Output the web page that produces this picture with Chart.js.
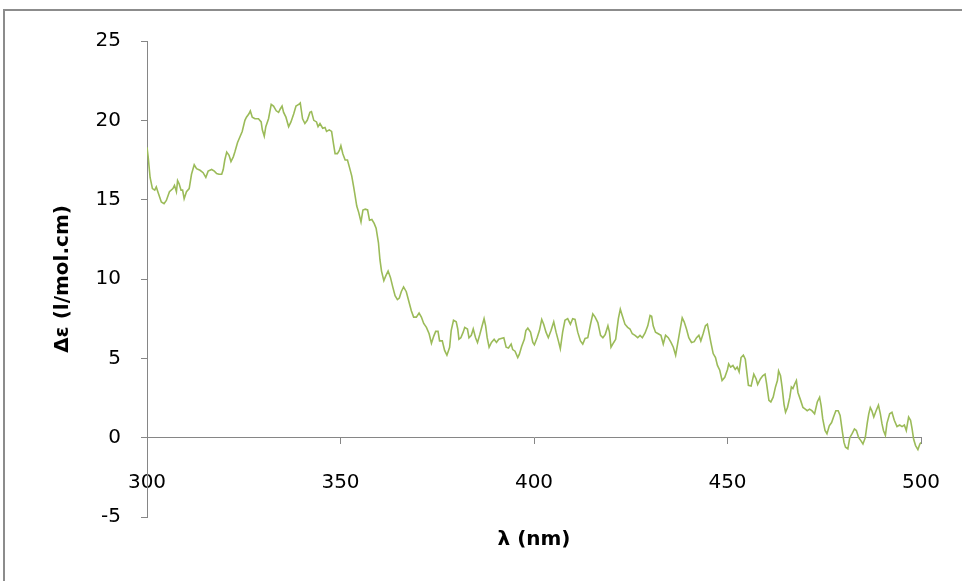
<!DOCTYPE html>
<html lang="en">
<head>
  <meta charset="UTF-8">
  <title>CD spectrum</title>
  <script src="https://cdn.jsdelivr.net/npm/chart.js"></script>
  <style>
    body { margin: 0; background: #fff; }
    #frame { position: absolute; left: 3px; top: 9px; width: 1000px; height: 1000px; border: 2px solid #8c8c8c; box-sizing: border-box; }
    #chartBox { position: absolute; left: 0; top: 0; width: 962px; height: 581px; }
  </style>
</head>
<body>
<div id="frame"></div>
<div id="chartBox"><canvas id="cdChart" width="962" height="581"></canvas></div>

<script>
// wavelength (nm)
const wavelengths = [
  300.0, 300.3, 300.8, 301.4, 302.0, 302.4, 302.8, 303.7, 304.4, 305.0,
  305.8, 306.7, 307.1, 307.6, 307.9, 308.3, 308.8, 309.2, 309.6, 310.2,
  310.9, 311.5, 312.2, 312.8, 313.7, 314.5, 315.2, 315.8, 316.7, 317.4,
  318.0, 318.6, 319.3, 319.7, 320.1, 320.6, 321.2, 321.7, 322.3, 322.7,
  323.4, 324.0, 324.6, 325.3, 325.7, 326.3, 326.7, 327.2, 327.9, 328.8,
  329.5, 329.8, 330.3, 330.7, 331.4, 332.1, 332.7, 333.4, 334.0, 334.4,
  334.9, 335.3, 335.9, 336.6, 337.2, 337.9, 338.5, 339.2, 339.6,
  340.2, 340.8, 341.4, 342.1, 342.5, 343.1, 343.8, 344.2, 344.7, 345.4,
  346.0, 346.4, 347.1, 347.7, 348.2, 348.6, 349.2, 349.7, 350.1, 350.6,
  351.2, 351.8, 352.3, 352.9, 353.4, 353.8, 354.2, 354.7, 355.3, 355.8,
  356.4, 357.0, 357.5, 358.1, 358.7, 359.2, 359.8, 360.2, 360.6, 361.2,
  361.7, 362.3, 362.9, 363.5, 364.1, 364.7, 365.2, 365.7, 366.3, 367.0,
  367.7, 368.3, 368.9, 369.6, 370.3, 370.9, 371.5, 372.2, 372.9, 373.5,
  374.1, 374.6, 375.2, 375.6, 376.3, 376.9, 377.5, 378.2, 378.6, 379.2,
  379.9, 380.3, 380.6,
  381.1, 381.7, 382.1, 382.8, 383.2, 383.8, 384.3, 384.9, 385.4, 386.0,
  386.6, 387.1, 387.5, 387.9, 388.4, 389.0, 389.7, 390.3, 390.9, 391.5,
  392.2, 392.8, 393.4, 394.1, 394.5, 395.1, 395.8, 396.2, 396.8, 397.5,
  397.9, 398.4, 399.1, 399.7, 400.1, 400.8, 401.4, 402.0, 402.5, 403.1,
  403.7, 404.4, 405.1, 405.7, 406.3, 406.8, 407.4, 408.0, 408.7, 409.4,
  410.0, 410.6, 411.3, 412.0, 412.6, 413.2, 413.9, 414.6, 415.2, 415.8,
  416.5, 417.2, 417.8, 418.4, 419.1, 419.5, 419.9, 420.6, 421.1,
  421.8, 422.3, 422.8, 423.5, 424.2, 424.8, 425.4, 426.1, 426.8, 427.4,
  428.0, 428.7, 429.4, 430.0, 430.4, 430.8, 431.4, 432.1, 432.8, 433.4,
  434.0, 434.7, 435.4, 436.0, 436.6, 437.1, 437.7, 438.3, 438.8, 439.4,
  440.0, 440.7, 441.4, 442.0, 442.6, 443.1, 443.7, 444.3, 444.8, 445.2,
  445.7, 446.3, 446.9, 447.4, 448.0, 448.6, 449.3, 450.0, 450.3, 450.8,
  451.4, 452.0, 452.5, 453.0, 453.5, 454.1, 454.6, 455.1, 455.4, 456.1,
  456.8, 457.4, 457.8, 458.5, 459.1, 459.7,
  460.1, 460.7, 461.2, 461.8, 462.4, 462.9, 463.2, 463.7, 464.1, 464.6,
  465.0, 465.5, 466.1, 466.5, 466.9, 467.4, 467.8, 468.2, 468.9, 469.5,
  470.1, 470.6, 471.2, 471.8, 472.5, 473.2, 473.8, 474.2, 474.6, 475.2,
  475.7, 476.3, 476.9, 477.4, 478.0, 478.6, 479.1, 479.7, 480.1, 480.5,
  481.1, 481.6, 482.2, 482.8, 483.3, 483.9, 484.5, 485.0, 485.6, 486.1,
  486.5, 486.9, 487.3, 487.8, 488.4, 489.0, 489.5, 489.9, 490.3, 490.8,
  491.2, 491.9, 492.5, 493.1, 493.8, 494.5, 495.1, 495.7, 496.2, 496.8,
  497.3, 497.7, 498.1, 498.6, 499.2, 499.7, 500.0
];

// delta epsilon (l/mol.cm)
const deltaEps = [
  18.3, 17.7, 16.4, 15.7, 15.6, 15.8, 15.5, 14.85, 14.75, 14.95,
  15.5, 15.7, 15.9, 15.5, 16.2, 16.0, 15.6, 15.6, 15.06, 15.5,
  15.7, 16.6, 17.2, 16.95, 16.85, 16.7, 16.4, 16.8, 16.9, 16.8,
  16.65, 16.6, 16.6, 16.9, 17.5, 18.0, 17.8, 17.4, 17.7, 18.0,
  18.6, 18.95, 19.3, 20.0, 20.2, 20.4, 20.6, 20.2, 20.1, 20.1,
  19.9, 19.4, 19.0, 19.6, 20.1, 21.0, 20.9, 20.6, 20.5, 20.7,
  20.9, 20.5, 20.2, 19.6, 19.9, 20.4, 20.9, 21.0, 21.1,
  20.1, 19.8, 20.0, 20.5, 20.55, 20.0, 19.9, 19.6, 19.8, 19.5,
  19.55, 19.3, 19.4, 19.3, 18.5, 17.9, 17.9, 18.1, 18.4, 17.9,
  17.5, 17.5, 17.05, 16.5, 15.8, 15.2, 14.6, 14.2, 13.6, 14.35,
  14.4, 14.35, 13.7, 13.75, 13.5, 13.2, 12.3, 11.2, 10.5, 9.9,
  10.2, 10.5, 10.1, 9.5, 8.95, 8.7, 8.8, 9.2, 9.5, 9.2,
  8.55, 8.0, 7.6, 7.6, 7.85, 7.6, 7.2, 6.95, 6.55, 5.95,
  6.4, 6.7, 6.7, 6.1, 6.1, 5.5, 5.2, 5.7, 6.75, 7.4,
  7.3, 6.85, 6.2,
  6.3, 6.65, 6.95, 6.85, 6.3, 6.45, 6.85, 6.3, 6.0, 6.5,
  7.05, 7.5, 7.05, 6.3, 5.7, 6.0, 6.2, 6.0, 6.2, 6.25,
  6.3, 5.7, 5.65, 5.9, 5.55, 5.45, 5.05, 5.25, 5.75, 6.2,
  6.75, 6.9, 6.65, 6.0, 5.85, 6.3, 6.75, 7.45, 7.15, 6.65,
  6.3, 6.75, 7.3, 6.65, 6.1, 5.6, 6.65, 7.4, 7.5, 7.15,
  7.5, 7.45, 6.65, 6.1, 5.9, 6.25, 6.3, 7.15, 7.8, 7.6,
  7.25, 6.45, 6.3, 6.5, 7.05, 6.65, 5.7, 6.0, 6.2,
  7.5, 8.1, 7.7, 7.15, 6.95, 6.85, 6.55, 6.45, 6.3, 6.45,
  6.3, 6.6, 7.05, 7.7, 7.65, 7.05, 6.65, 6.55, 6.45, 5.9,
  6.45, 6.3, 6.0, 5.7, 5.2, 5.9, 6.75, 7.55, 7.3, 6.85,
  6.3, 6.0, 6.05, 6.3, 6.45, 6.1, 6.55, 7.05, 7.15, 6.65,
  6.0, 5.3, 5.05, 4.55, 4.25, 3.6, 3.8, 4.3, 4.65, 4.45,
  4.55, 4.3, 4.45, 4.15, 5.05, 5.2, 4.95, 3.9, 3.3, 3.25,
  4.0, 3.7, 3.35, 3.7, 3.9, 4.0,
  3.4, 2.35, 2.25, 2.55, 3.2, 3.6, 4.2, 3.9, 3.2, 2.1,
  1.6, 1.9, 2.55, 3.2, 3.1, 3.4, 3.6, 2.85, 2.35, 1.9,
  1.8, 1.7, 1.8, 1.7, 1.5, 2.25, 2.55, 2.0, 1.2, 0.45,
  0.25, 0.75, 0.95, 1.3, 1.7, 1.7, 1.4, 0.35, -0.3, -0.6,
  -0.7, 0.0, 0.25, 0.55, 0.45, 0.0, -0.2, -0.4, 0.0, 0.9,
  1.5, 1.9, 1.7, 1.3, 1.7, 2.05, 1.5, 0.9, 0.45, 0.15,
  0.9, 1.5, 1.6, 1.1, 0.7, 0.8, 0.7, 0.8, 0.45, 1.3,
  1.1, 0.55, -0.1, -0.5, -0.75, -0.4, -0.3
];

const xRange = [300, 500];
const yRange = [-5, 25];

const axisGray = "#868686";
const tickFont = { family: "DejaVu Sans", size: 20 };
const titleFont = { family: "DejaVu Sans", size: 20, weight: "bold" };

const points = wavelengths.map((w, i) => ({ x: w, y: deltaEps[i] }));

new Chart(document.getElementById("cdChart"), {
  type: "line",
  data: {
    datasets: [{
      data: points,
      borderColor: "#9bbb59",
      borderWidth: 1.6,
      pointRadius: 0,
      tension: 0,
      fill: false
    }]
  },
  options: {
    responsive: false,
    animation: false,
    layout: { padding: { left: 0, top: 41, right: 41, bottom: 0 } },
    plugins: { legend: { display: false }, tooltip: { enabled: false } },
    scales: {
      x: {
        type: "linear",
        position: { y: 0 },
        min: xRange[0],
        max: xRange[1],
        ticks: { stepSize: 50, color: "#000", font: tickFont, padding: 27, maxRotation: 0 },
        grid: { drawOnChartArea: false, tickLength: 6, color: axisGray },
        border: { color: axisGray, width: 1 },
        // the big label padding is vertical only, don't let it eat the sides
        afterFit: (scale) => { scale.paddingLeft = 0; scale.paddingRight = 0; }
      },
      x2: {
        type: "linear",
        position: "bottom",
        min: xRange[0],
        max: xRange[1],
        ticks: { display: false },
        grid: { display: false, drawTicks: false },
        border: { display: false },
        title: { display: true, text: "λ (nm)", color: "#000", font: titleFont, padding: { top: 0, bottom: 29 } },
        afterFit: (scale) => { scale.height = 64; }
      },
      y: {
        type: "linear",
        position: "left",
        min: yRange[0],
        max: yRange[1],
        ticks: { stepSize: 5, color: "#000", font: tickFont, padding: 20 },
        grid: { drawOnChartArea: false, tickLength: 6, color: axisGray },
        border: { color: axisGray, width: 1 },
        title: { display: true, text: "Δε (l/mol.cm)", color: "#000", font: titleFont, padding: { top: 51, bottom: 0 } },
        afterFit: (scale) => { scale.width = 147; }
      }
    }
  }
});
</script>
</body>
</html>
